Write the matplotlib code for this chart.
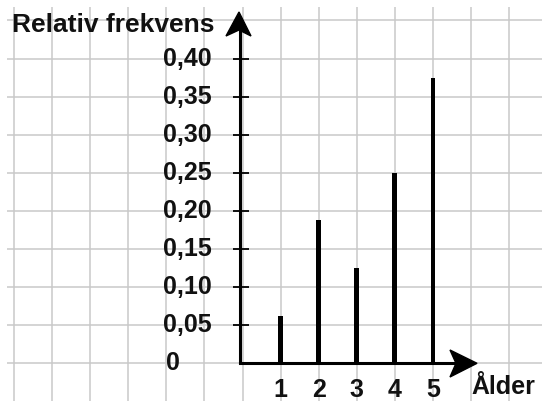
import matplotlib.pyplot as plt
from matplotlib.patches import Polygon

# data
ages = [1, 2, 3, 4, 5]
rel_freq = [0.0625, 0.1875, 0.125, 0.25, 0.375]
y_ticks = [0.05, 0.10, 0.15, 0.20, 0.25, 0.30, 0.35, 0.40]
y_tick_labels = ['0,05', '0,10', '0,15', '0,20', '0,25', '0,30', '0,35', '0,40']
x_label = 'Ålder'
y_label = 'Relativ frekvens'

# 38.1 px per grid square, origin at pixel (242.5, 363.3)
SQ = 38.1
X0, Y0 = 242.5, 363.3
W, H = 542, 401


def px_x(p):
    return (p - X0) / SQ


def px_y(p):
    return (Y0 - p) / SQ * 0.05


def px_pt(x, y):
    return (px_x(x), px_y(y))


fig = plt.figure(figsize=(W / 100, H / 100), dpi=100)
ax = fig.add_axes([0, 0, 1, 1])
ax.set_xlim(px_x(0), px_x(W))
ax.set_ylim(px_y(H), px_y(0))
ax.axis('off')

font = dict(family=['Liberation Sans', 'DejaVu Sans'], fontweight='bold', fontsize=18, color='#111111')

# squared paper
grid_col = '#c9c9c9'
ax.vlines(range(-6, 8), px_y(H), px_y(7), color=grid_col, lw=1.1, zorder=0)
ax.hlines([k * 0.05 for k in range(0, 10)], px_x(7), px_x(W), color=grid_col, lw=1.1, zorder=0)

# axes with arrows
ax_x = px_x(240)
ax.plot([ax_x, ax_x], [0, px_y(30)], color='black', lw=2.2, solid_capstyle='butt')
ax.plot([ax_x, px_x(458)], [0, 0], color='black', lw=2.2, solid_capstyle='projecting')
ax.add_patch(Polygon([px_pt(239, 12), px_pt(226, 36), px_pt(239, 30), px_pt(251, 36)],
                     closed=True, color='black'))
ax.add_patch(Polygon([px_pt(477, 363.3), px_pt(450, 350), px_pt(456, 363.3), px_pt(450, 377)],
                     closed=True, color='black'))

# y ticks
ax.hlines(y_ticks, px_x(233), px_x(249), color='black', lw=1.3)
for v, lab in zip(y_ticks, y_tick_labels):
    ax.text(px_x(163), v, lab, ha='left', va='center', **font)
ax.text(px_x(166), 0, '0', ha='left', va='center', **font)

# bars
ax.bar(ages, rel_freq, width=0.13, color='black', zorder=3)

# x tick labels
for a in ages:
    ax.text(a, px_y(390), str(a), ha='center', va='center', **font)

ax.text(px_x(471), px_y(394), x_label, ha='left', va='baseline', **font)
ax.text(px_x(12), px_y(32), y_label, ha='left', va='baseline',
        **{**font, 'fontsize': 19})

fig.savefig('out.png', dpi=100)
